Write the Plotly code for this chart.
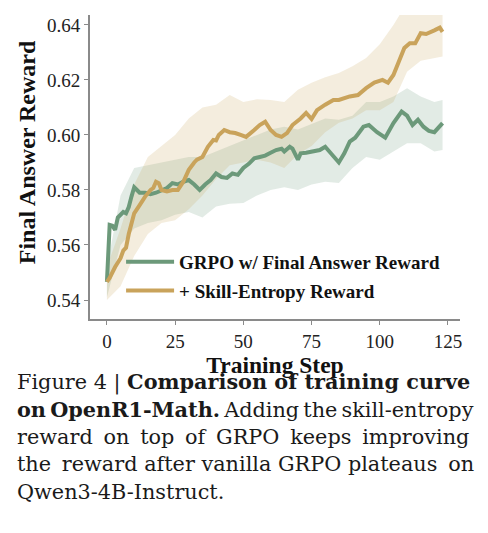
import plotly.graph_objects as go

# GRPO w/ Final Answer Reward (mean curve)
grpo_steps = [0, 1, 2, 3, 4, 5, 6, 7, 8, 9, 10, 11, 12, 14, 16, 18, 20, 22, 24, 26,
              28, 30, 32, 34, 36, 38, 40, 42, 44, 46, 48, 50, 52, 54, 56, 58, 60, 62,
              64, 65, 67, 68, 70, 71, 73, 75, 78, 80, 82, 85, 87, 89, 91, 94, 96, 99,
              102, 105, 108, 110, 112, 114, 116, 118, 120, 123]
grpo_reward = [0.5466, 0.5673, 0.5670, 0.5655, 0.5700, 0.5710, 0.5720, 0.5715, 0.5738,
               0.5776, 0.5810, 0.5800, 0.5790, 0.5790, 0.5785, 0.5790, 0.5800, 0.5807,
               0.5825, 0.5820, 0.5830, 0.5836, 0.5820, 0.5800, 0.5820, 0.5836, 0.5860,
               0.5847, 0.5844, 0.5860, 0.5855, 0.5880, 0.5895, 0.5915, 0.5920, 0.5925,
               0.5935, 0.5945, 0.5950, 0.5940, 0.5957, 0.5950, 0.5910, 0.5933, 0.5935,
               0.5940, 0.5945, 0.5957, 0.5933, 0.5900, 0.5933, 0.5976, 0.5990, 0.6030,
               0.6036, 0.6010, 0.5990, 0.6043, 0.6085, 0.6070, 0.6036, 0.6055, 0.6030,
               0.6015, 0.6010, 0.6043]

# + Skill-Entropy Reward (mean curve)
skill_steps = [0, 1, 3, 5, 6, 7, 8, 9, 10, 12, 14, 16, 17, 18, 19, 20, 22, 24, 26, 28,
               30, 32, 33, 35, 37, 39, 40, 41, 43, 45, 47, 49, 51, 54, 56, 58, 60, 62,
               64, 66, 68, 71, 73, 75, 77, 80, 83, 85, 89, 92, 95, 98, 101, 103, 105,
               107, 109, 111, 113, 115, 117, 120, 122, 123]
skill_reward = [0.5466, 0.5480, 0.5520, 0.5552, 0.5580, 0.5590, 0.5640, 0.5680, 0.5715,
                0.5745, 0.5776, 0.5800, 0.5807, 0.5830, 0.5825, 0.5800, 0.5795, 0.5800,
                0.5800, 0.5830, 0.5873, 0.5900, 0.5910, 0.5920, 0.5957, 0.5982, 0.5980,
                0.6000, 0.6018, 0.6010, 0.6007, 0.6000, 0.5993, 0.6018, 0.6036, 0.6048,
                0.6018, 0.6000, 0.5993, 0.6007, 0.6036, 0.6060, 0.6080, 0.6058, 0.6090,
                0.6110, 0.6127, 0.6127, 0.6140, 0.6145, 0.6170, 0.6190, 0.6200, 0.6190,
                0.6218, 0.6267, 0.6316, 0.6333, 0.6333, 0.6370, 0.6367, 0.6380, 0.6390,
                0.6375]

# shaded spread around each curve
band_steps = [0, 5, 10, 15, 20, 25, 30, 35, 40, 45, 50, 55, 60, 65, 70, 75, 80, 85, 90,
              95, 100, 105, 110, 115, 120, 123]
grpo_upper = [0.552, 0.578, 0.588, 0.589, 0.590, 0.591, 0.592, 0.592, 0.594, 0.596,
              0.598, 0.600, 0.602, 0.603, 0.602, 0.604, 0.606, 0.6055, 0.607, 0.612,
              0.612, 0.614, 0.617, 0.614, 0.612, 0.6127]
grpo_lower = [0.541, 0.560, 0.566, 0.568, 0.569, 0.571, 0.572, 0.570, 0.574, 0.575,
              0.5753, 0.578, 0.580, 0.581, 0.580, 0.582, 0.583, 0.5825, 0.588, 0.592,
              0.591, 0.594, 0.597, 0.597, 0.594, 0.5945]
skill_upper = [0.552, 0.566, 0.582, 0.592, 0.596, 0.600, 0.606, 0.610, 0.611, 0.6145,
               0.612, 0.613, 0.6127, 0.612, 0.6164, 0.619, 0.621, 0.6225, 0.625, 0.628,
               0.633, 0.640, 0.648, 0.650, 0.650, 0.650]
skill_lower = [0.540, 0.545, 0.556, 0.564, 0.568, 0.569, 0.573, 0.578, 0.584, 0.589,
               0.590, 0.591, 0.590, 0.588, 0.593, 0.596, 0.601, 0.6044, 0.606, 0.609,
               0.609, 0.612, 0.623, 0.627, 0.628, 0.6285]

x_ticks = [0, 25, 50, 75, 100, 125]
y_ticks = [0.54, 0.56, 0.58, 0.60, 0.62, 0.64]

TS = "\u2009"  # thin space, used to widen lines a bit (caption is justified)
caption_lines = [
    "Figure 4 | <b>Comparison of training curve</b>",
    "<b>on" + TS + "OpenR1-Math.</b>" + TS + "Adding" + TS + "the" + TS + "skill-entropy",
    "reward " + TS + "on " + TS + "top " + TS + "of " + TS + "GRPO " + TS + "keeps " + TS + "improving",
    "the " + TS + "reward after vanilla GRPO plateaus " + TS + "on",
    "Qwen3-4B-Instruct.",
]
caption_sizes = [20.8, 20.8, 20.8, 20.8, 20.8]

green = "#6c997a"
gold = "#c9a35b"
serif = "Liberation Serif"

fig = go.Figure()

# bands
fig.add_trace(go.Scatter(
    x=band_steps + band_steps[::-1], y=grpo_upper + grpo_lower[::-1],
    fill="toself", fillcolor="rgba(110,154,123,0.2)", line=dict(width=0),
    hoverinfo="skip", showlegend=False))
fig.add_trace(go.Scatter(
    x=band_steps + band_steps[::-1], y=skill_upper + skill_lower[::-1],
    fill="toself", fillcolor="rgba(201,163,91,0.2)", line=dict(width=0),
    hoverinfo="skip", showlegend=False))

# lines
fig.add_trace(go.Scatter(
    x=grpo_steps, y=grpo_reward, mode="lines", name="GRPO w/ Final Answer Reward",
    line=dict(color=green, width=4), legendgroup="a"))
fig.add_trace(go.Scatter(
    x=skill_steps, y=skill_reward, mode="lines", name="+ Skill-Entropy Reward",
    line=dict(color=gold, width=4), legendgroup="b"))

axis_common = dict(
    showline=True, linecolor="#8a8a8a", linewidth=2, showgrid=False, zeroline=False,
    ticks="outside", ticklen=4, tickwidth=1, tickcolor="#8a8a8a", automargin=False,
    tickfont=dict(family=serif, size=19, color="#222222"),
)

fig.update_xaxes(
    range=[-6.2, 129.4], tickvals=x_ticks,
    title=dict(text="<b>Training Step</b>", font=dict(family=serif, size=23.5, color="#111111"),
               standoff=0),
    **axis_common)
fig.update_yaxes(range=[0.5331, 0.6436], tickvals=y_ticks, tickformat=".2f", **axis_common)

# y title as annotation (sits a bit above plot centre in the original)
fig.add_annotation(
    text="<b>Final Answer Reward</b>", xref="paper", yref="paper", x=-0.17, y=0.549,
    textangle=-90, showarrow=False, xanchor="center", yanchor="middle",
    font=dict(family=serif, size=24, color="#111111"))

# caption below the plot, one line per annotation
for i, line in enumerate(caption_lines):
    fig.add_annotation(
        text=line, xref="paper", yref="paper", x=-0.203, y=-0.206 - i * 0.0905,
        xanchor="left", yanchor="middle", showarrow=False,
        font=dict(family="DejaVu Serif", size=caption_sizes[i], color="#1a1a1a"))

fig.update_layout(
    width=488, height=533,
    margin=dict(l=90, r=28, t=15, b=214, autoexpand=False),
    paper_bgcolor="white", plot_bgcolor="white",
    showlegend=True,
    legend=dict(x=0.084, y=0.25, xanchor="left", yanchor="top",
                bgcolor="rgba(0,0,0,0)", tracegroupgap=1, itemwidth=48,
                font=dict(family=serif, size=19, color="#111111", weight="bold")),
)

fig.write_html("out.html", config={"displayModeBar": False},
               post_script="document.body.style.margin='0px';")
